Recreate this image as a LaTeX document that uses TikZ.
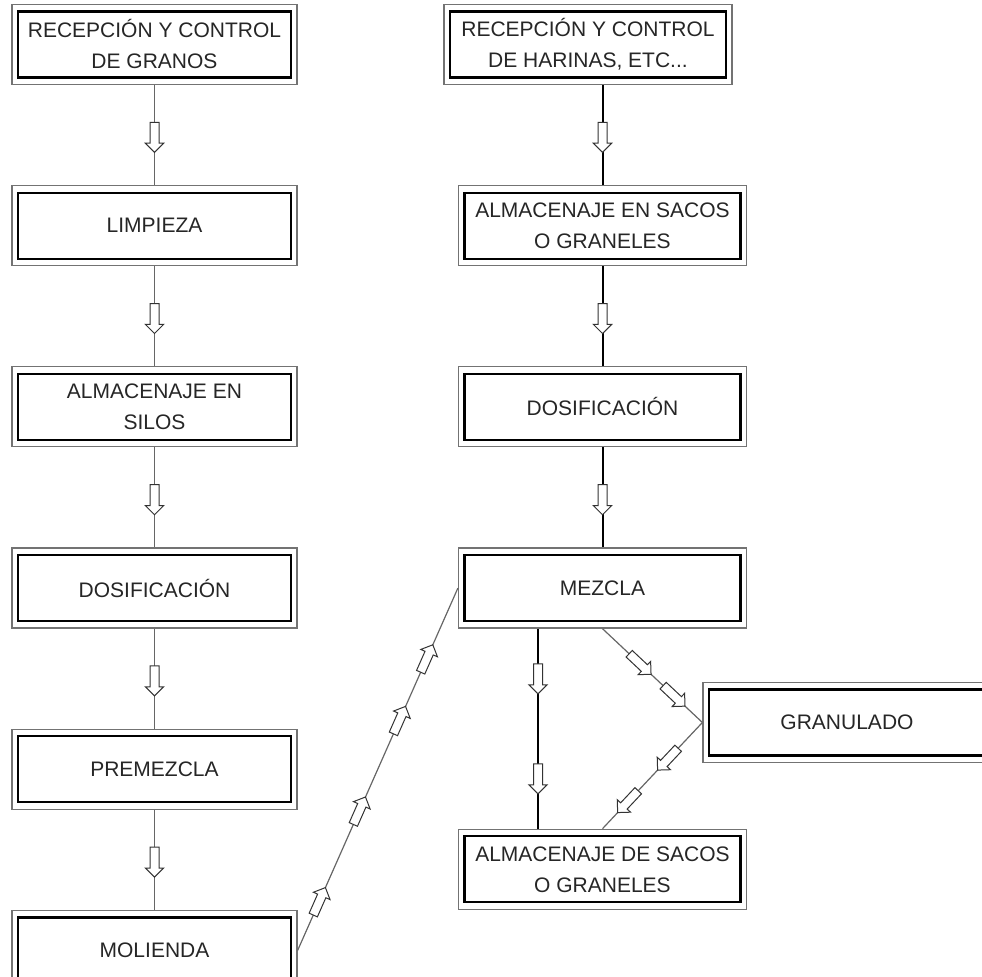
\documentclass[tikz,border=0pt]{standalone}
\usepackage{fontspec}
\setmainfont{Liberation Sans}
\usetikzlibrary{positioning,shapes.arrows}

\begin{document}
\begin{tikzpicture}[x=0.5pt,y=-0.5pt,node distance=50pt]
	\tikzstyle{caja} = [rectangle, draw=black!55, line width=0.6pt, fill=white, minimum width=144pt, minimum height=40pt, align=center, text=black!85, font=\fontsize{10.5}{15.5}\selectfont, path picture={\draw[black, line width=1.1pt] ([shift={(3pt,-3.5pt)}]path picture bounding box.north west) rectangle ([shift={(-3pt,3.5pt)}]path picture bounding box.south east);}];
	\tikzstyle{flecha} = [single arrow, draw=black!80, fill=white, line width=0.5pt, minimum height=15pt, inner xsep=0pt, inner ysep=2pt, single arrow head extend=2.3pt, sloped, allow upside down];
	\tikzstyle{linea} = [draw=black!60, line width=0.6pt, allow upside down];
	\tikzstyle{lineab} = [draw=black, line width=1pt, allow upside down];
	\useasboundingbox (0,0) rectangle (982,977);
	\clip (0,0) rectangle (982,977);

	% granos
	\node [caja, minimum width=142.5pt] (granos) at (154.5,44.5) {RECEPCIÓN Y CONTROL\\DE GRANOS};
	\node [caja, minimum width=142.5pt, below=of granos] (limpieza) {LIMPIEZA};
	\node [caja, minimum width=142.5pt, below=of limpieza] (silos) {ALMACENAJE EN\\SILOS};
	\node [caja, minimum width=142.5pt, below=of silos] (dosif1) {DOSIFICACIÓN};
	\node [caja, minimum width=142.5pt, below=of dosif1] (premezcla) {PREMEZCLA};
	\node [caja, minimum width=142.5pt, below=of premezcla] (molienda) {MOLIENDA};

	% harinas
	\node [caja] (harinas) at (588,44.5) {RECEPCIÓN Y CONTROL\\DE HARINAS, ETC...};
	\node [caja, below=of harinas, xshift=7.25pt] (sacos) {ALMACENAJE EN SACOS\\O GRANELES};
	\node [caja, below=of sacos] (dosif2) {DOSIFICACIÓN};
	\node [caja, below=of dosif2] (mezcla) {MEZCLA};
	\node [caja, below=100pt of mezcla] (final) {ALMACENAJE DE SACOS\\O GRANELES};
	\node [caja] (granulado) at (847,722.5) {GRANULADO};

	\draw [linea] (granos) -- node [flecha] {} (limpieza);
	\draw [linea] (limpieza) -- node [flecha] {} (silos);
	\draw [linea] (silos) -- node [flecha] {} (dosif1);
	\draw [linea] (dosif1) -- node [flecha] {} (premezcla);
	\draw [linea] (premezcla) -- node [flecha] {} (molienda);

	\draw [lineab] (sacos.north |- harinas.south) -- node [flecha] {} (sacos.north);
	\draw [lineab] (sacos) -- node [flecha] {} (dosif2);
	\draw [lineab] (dosif2) -- node [flecha] {} (mezcla);
	\draw [lineab] ([xshift=-32.25pt]mezcla.south) -- node [flecha, pos=.24] {} node [flecha, pos=.74] {} ([xshift=-32.25pt]final.north);

	\draw [linea] (molienda.east) -- node [flecha, pos=.13] {} node [flecha, pos=.38] {} node [flecha, pos=.63] {} node [flecha, pos=.8] {} (mezcla.west);
	\draw [linea] (mezcla.south) -- node [flecha, pos=.36] {} node [flecha, pos=.7] {} (granulado.west);
	\draw [linea] (granulado.west) -- node [flecha, pos=.33] {} node [flecha, pos=.73] {} (final.north);
\end{tikzpicture}
\end{document}
